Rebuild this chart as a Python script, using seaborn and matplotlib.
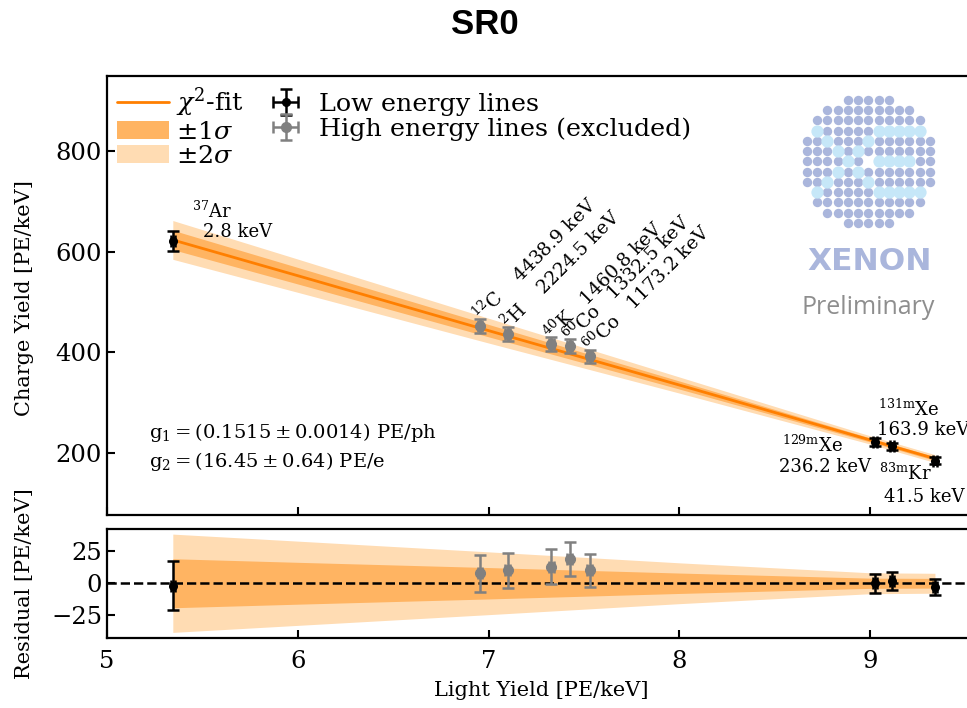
import numpy as np
import matplotlib
matplotlib.use("Agg")
import matplotlib.pyplot as plt
from matplotlib.patches import Patch
from matplotlib.lines import Line2D
import seaborn as sns

# --- data ---
low_x = [5.345, 9.025, 9.115, 9.34]
low_y = [621, 222, 213, 185]
low_yerr = [19.5, 7.3, 7.0, 6.3]
low_res = [-1.8, 0.0, 1.8, -2.6]

high_x = [6.955, 7.10, 7.33, 7.425, 7.53]
high_y = [452, 437, 416, 412, 392]
high_yerr = [14.7, 14.0, 13.5, 13.4, 13.0]
high_res = [7.8, 10.0, 13.0, 18.7, 10.0]

pt_xerr = 0.012

band_x = [5.345, 6.0, 7.0, 8.0, 9.0, 9.34]
fit_y = [623, 552, 443, 335, 226, 189]
sig1 = [19.2, 16.4, 12.3, 8.0, 4.0, 3.8]
sig2 = [38.5, 33.0, 24.6, 16.0, 8.2, 7.8]

high_labels = [r"$^{12}$C    4438.9 keV", r"$^{2}$H    2224.5 keV", r"$^{40}$K   1460.8 keV",
               r"$^{60}$Co   1332.5 keV", r"$^{60}$Co   1173.2 keV"]

# two-line labels of the low energy lines: (x, baseline y, text)
low_label_lines = [
    (5.444, 667, r"$^{37}$Ar"), (5.502, 628, "2.8 keV"),
    (9.042, 273, r"$^{131\mathrm{m}}$Xe"), (9.037, 236, "163.9 keV"),
    (8.536, 203, r"$^{129\mathrm{m}}$Xe"), (8.523, 163, "236.2 keV"),
    (9.049, 146, r"$^{83\mathrm{m}}$Kr"), (9.075, 102, "41.5 keV"),
]

fit_col = "#ff7f00"
c1 = "#ffb462"
c2 = "#ffdcb3"

sns.set_theme(style="ticks")
plt.rcParams["font.family"] = ["DejaVu Serif"]
plt.rcParams["mathtext.fontset"] = "dejavuserif"
plt.rcParams["axes.linewidth"] = 1.6
for key in ["text.color", "axes.labelcolor", "xtick.color", "ytick.color", "axes.edgecolor"]:
    plt.rcParams[key] = "black"

W, H = 967, 708
fig = plt.figure(figsize=(W / 100, H / 100), dpi=100)
ax = fig.add_axes([107 / W, 1 - 515 / H, 868 / W, (515 - 75.7) / H])
rax = fig.add_axes([107 / W, 1 - 637.5 / H, 868 / W, (637.5 - 529) / H], sharex=ax)

fy = np.array(fit_y)
s1 = np.array(sig1)
s2 = np.array(sig2)

# main panel
ax.fill_between(band_x, fy - s2, fy + s2, color=c2, lw=0, zorder=1)
ax.fill_between(band_x, fy - s1, fy + s1, color=c1, lw=0, zorder=2)
sns.lineplot(x=band_x, y=fit_y, color=fit_col, lw=2, ax=ax, zorder=3)
eb_kw = dict(fmt="o", elinewidth=1.8, capsize=4, capthick=1.8, zorder=5)
ax.errorbar(high_x, high_y, yerr=high_yerr, xerr=pt_xerr, color="grey", ms=7, **eb_kw)
ax.errorbar(low_x, low_y, yerr=low_yerr, xerr=pt_xerr, color="black", ms=5.5, **eb_kw)

# residual panel
rax.fill_between(band_x, -s2, s2, color=c2, lw=0, zorder=1)
rax.fill_between(band_x, -s1, s1, color=c1, lw=0, zorder=2)
rax.axhline(0, color="black", ls="--", lw=1.8, zorder=3)
rax.errorbar(high_x, high_res, yerr=high_yerr, xerr=pt_xerr, color="grey", ms=7, **eb_kw)
rax.errorbar(low_x, low_res, yerr=low_yerr, xerr=pt_xerr, color="black", ms=5.5, **eb_kw)

ax.set_xlim(5, 9.55)
ax.set_ylim(77, 949)
rax.set_ylim(-42.5, 42.5)
ax.set_yticks([200, 400, 600, 800])
rax.set_yticks([-25, 0, 25])
rax.set_xticks([5, 6, 7, 8, 9])
for a in (ax, rax):
    a.tick_params(direction="in", length=6, width=1.5, labelsize=17.5, top=False, right=False)
ax.tick_params(labelbottom=False)
rax.tick_params(axis="x", pad=9)

ax.set_ylabel("Charge Yield [PE/keV]", fontsize=15)
rax.set_ylabel("Residual [PE/keV]", fontsize=15)
rax.set_xlabel("Light Yield [PE/keV]", fontsize=15, labelpad=6)
ax.yaxis.set_label_coords(-0.084, 0.494)
rax.yaxis.set_label_coords(-0.084, 0.5)

# labels of the lines
for x, y, s in low_label_lines:
    ax.text(x, y, s, fontsize=13, va="baseline")
for x, y, e, lab in zip(high_x, high_y, high_yerr, high_labels):
    ax.annotate(lab, (x, y + e), xytext=(1, -3), textcoords="offset points", rotation=45,
                rotation_mode="anchor", ha="left", va="baseline", fontsize=13.5)

ax.text(5.22, 229, r"$\mathrm{g}_1 = (0.1515 \pm 0.0014)$ PE/ph", fontsize=14, va="baseline")
ax.text(5.22, 173, r"$\mathrm{g}_2 = (16.45 \pm 0.64)$ PE/e", fontsize=14, va="baseline")

# legend
handles = [
    Line2D([], [], color=fit_col, lw=2),
    Patch(color=c1, lw=0),
    Patch(color=c2, lw=0),
    ax.containers[-1],
    ax.containers[-2],
]
labels = [r"$\chi^2$-fit", r"$\pm1\sigma$", r"$\pm2\sigma$", "Low energy lines",
          "High energy lines (excluded)"]
ax.legend(handles, labels, loc="upper left", ncol=2, frameon=False, fontsize=18.3,
          handlelength=2.05, handletextpad=0.28, columnspacing=0.6, labelspacing=0.05,
          borderaxespad=0.3, borderpad=0.1)

# title
fig.text(485 / W, 1 - 24 / H, "SR0", ha="center", va="center", fontsize=25,
         fontweight="bold", family="Liberation Sans", color="black")

# XENON logo
lax = fig.add_axes([0, 0, 1, 1], zorder=10)
lax.set_xlim(0, W)
lax.set_ylim(H, 0)
lax.axis("off")
half = [2, 4, 5, 5, 6, 6, 6, 6, 6, 5, 5, 4, 2]
light = {(3, 1), (4, 2), (5, 3), (6, 4), (7, 3), (8, 2), (9, 1),
         (3, 7), (4, 6), (5, 5), (7, 5), (8, 6), (9, 7),
         (3, 8), (3, 9), (3, 10), (3, 11), (6, 7), (6, 8), (6, 9), (6, 10),
         (9, 8), (9, 9), (9, 10), (9, 11)}
gap = {(6, 6)}
bx, by, lx, ly = [], [], [], []
sp = 10.25
for r, hw in enumerate(half):
    for k in range(6 - hw, 7 + hw):
        if (r, k) in gap:
            continue
        px = 868.3 + (k - 6) * sp
        py = 161.3 + (r - 6) * sp
        if (r, k) in light:
            lx.append(px); ly.append(py)
        else:
            bx.append(px); by.append(py)
lax.scatter(bx, by, s=46, color="#aab6dc", lw=0)
lax.scatter(lx, ly, s=78, color="#c6e7f8", lw=0)
lax.text(870, 262, "XENON", ha="center", va="center", fontsize=22.5, fontweight="bold",
         color="#aab6dc", family="DejaVu Sans")
lax.text(868, 314, "Preliminary", ha="center", va="baseline", fontsize=18,
         color="#8e8e8e", family="Open Sans")

fig.savefig("out.png", dpi=100)
